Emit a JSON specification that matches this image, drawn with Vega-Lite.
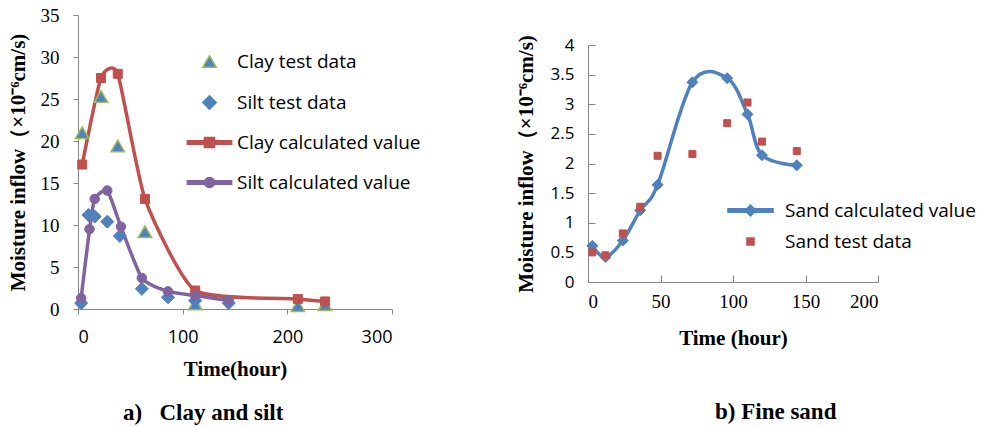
{
  "$schema": "https://vega.github.io/schema/vega-lite/v6.json",
  "background": "white",
  "padding": {"left": 6, "top": 6, "right": 0, "bottom": 0},
  "spacing": 94,
  "resolve": {
    "scale": {"shape": "independent", "fill": "independent", "stroke": "independent"},
    "legend": {"shape": "independent", "fill": "independent", "stroke": "independent"}
  },
  "config": {
    "view": {"stroke": null},
    "axis": {"grid": false, "domainColor": "#868686", "tickColor": "#868686", "domainWidth": 1, "tickWidth": 1, "labelColor": "#000000", "titleColor": "#000000", "titleFont": "Liberation Serif", "titleFontWeight": "bold", "titleFontSize": 21},
    "legend": {"title": null, "orient": "none", "padding": 0, "labelFont": "Open Sans", "labelFontSize": 19, "labelColor": "#000000", "labelLimit": 400, "symbolStrokeWidth": 1.5},
    "title": {"font": "Liberation Serif", "fontWeight": "bold", "fontSize": 23, "color": "#000000"}
  },
  "datasets": {
    "clay_silt": [
      {"series": "Clay test data", "t": 4, "v": 21.0},
      {"series": "Clay test data", "t": 22, "v": 25.3},
      {"series": "Clay test data", "t": 38, "v": 19.4},
      {"series": "Clay test data", "t": 64, "v": 9.2},
      {"series": "Clay test data", "t": 112, "v": 0.6},
      {"series": "Clay test data", "t": 210, "v": 0.4},
      {"series": "Clay test data", "t": 236, "v": 0.5},
      {"series": "Silt test data", "t": 3, "v": 0.7},
      {"series": "Silt test data", "t": 10, "v": 11.2},
      {"series": "Silt test data", "t": 16, "v": 11.0},
      {"series": "Silt test data", "t": 28, "v": 10.4},
      {"series": "Silt test data", "t": 40, "v": 8.7},
      {"series": "Silt test data", "t": 61, "v": 2.4},
      {"series": "Silt test data", "t": 86, "v": 1.4},
      {"series": "Silt test data", "t": 112, "v": 1.0},
      {"series": "Silt test data", "t": 144, "v": 0.7},
      {"series": "Clay calculated value", "t": 4, "v": 17.2},
      {"series": "Clay calculated value", "t": 22, "v": 27.5},
      {"series": "Clay calculated value", "t": 38, "v": 28.0},
      {"series": "Clay calculated value", "t": 64, "v": 13.1},
      {"series": "Clay calculated value", "t": 112, "v": 2.2},
      {"series": "Clay calculated value", "t": 210, "v": 1.2},
      {"series": "Clay calculated value", "t": 236, "v": 0.9},
      {"series": "Silt calculated value", "t": 3, "v": 1.3},
      {"series": "Silt calculated value", "t": 11, "v": 9.5},
      {"series": "Silt calculated value", "t": 16, "v": 13.1},
      {"series": "Silt calculated value", "t": 28, "v": 14.1},
      {"series": "Silt calculated value", "t": 41, "v": 9.8},
      {"series": "Silt calculated value", "t": 61, "v": 3.7},
      {"series": "Silt calculated value", "t": 86, "v": 2.1},
      {"series": "Silt calculated value", "t": 112, "v": 1.6},
      {"series": "Silt calculated value", "t": 144, "v": 1.0}
    ],
    "sand": [
      {"series": "Sand calculated value", "t": 3, "v": 0.61},
      {"series": "Sand calculated value", "t": 12, "v": 0.42},
      {"series": "Sand calculated value", "t": 24, "v": 0.70},
      {"series": "Sand calculated value", "t": 36, "v": 1.21},
      {"series": "Sand calculated value", "t": 48, "v": 1.64},
      {"series": "Sand calculated value", "t": 72, "v": 3.37},
      {"series": "Sand calculated value", "t": 96, "v": 3.44},
      {"series": "Sand calculated value", "t": 110, "v": 2.83},
      {"series": "Sand calculated value", "t": 120, "v": 2.14},
      {"series": "Sand calculated value", "t": 144, "v": 1.97},
      {"series": "Sand test data", "t": 3, "v": 0.50},
      {"series": "Sand test data", "t": 12, "v": 0.45},
      {"series": "Sand test data", "t": 24, "v": 0.82},
      {"series": "Sand test data", "t": 36, "v": 1.27},
      {"series": "Sand test data", "t": 48, "v": 2.13},
      {"series": "Sand test data", "t": 72, "v": 2.16},
      {"series": "Sand test data", "t": 96, "v": 2.68},
      {"series": "Sand test data", "t": 110, "v": 3.03},
      {"series": "Sand test data", "t": 120, "v": 2.37},
      {"series": "Sand test data", "t": 144, "v": 2.21}
    ]
  },
  "hconcat": [
    {
      "width": 314,
      "height": 294,
      "data": {"name": "clay_silt"},
      "title": {"text": "a)\u00a0\u00a0\u00a0Clay and silt", "orient": "bottom", "anchor": "start", "frame": "group", "dx": 45, "offset": 23},
      "encoding": {
        "x": {"field": "t", "type": "quantitative", "scale": {"domain": [0, 300], "nice": false},
              "axis": {"values": [0, 100, 200, 300], "title": "Time(hour)", "labelFont": "Open Sans", "labelFontSize": 18, "tickSize": 5, "labelPadding": 14, "titlePadding": 12}},
        "y": {"field": "v", "type": "quantitative", "scale": {"domain": [0, 35], "nice": false},
              "axis": {"values": [0, 5, 10, 15, 20, 25, 30, 35], "title": "Moisture inflow（×10⁻⁶cm/s)", "labelFont": "Liberation Serif", "labelFontSize": 19, "tickSize": 5, "labelPadding": 14, "titlePadding": 12}}
      },
      "layer": [
        {
          "transform": [{"filter": "datum.series === 'Clay calculated value'"}],
          "mark": {"type": "line", "interpolate": "cardinal", "tension": 0.45, "color": "#C0504D", "strokeWidth": 3.5}
        },
        {
          "transform": [{"filter": "datum.series === 'Silt calculated value'"}],
          "mark": {"type": "line", "interpolate": "cardinal", "tension": 0.45, "color": "#8064A2", "strokeWidth": 3.5}
        },
        {
          "transform": [{"filter": "datum.series === 'Clay test data'"}],
          "mark": {"type": "point", "filled": true, "opacity": 1, "size": 180, "strokeWidth": 1.5},
          "encoding": {
            "shape": {"field": "series", "type": "nominal",
                      "scale": {"domain": ["Clay test data", "Silt test data", "Clay calculated value", "Silt calculated value"],
                                "range": ["triangle-up", "diamond",
                                          "M-3.3,-0.26H3.3V0.26H-3.3Z M-0.75,-0.75H0.75V0.75H-0.75Z",
                                          "M-3.3,-0.26H3.3V0.26H-3.3Z M0.75,0A0.75,0.75,0,1,1,-0.75,0A0.75,0.75,0,1,1,0.75,0Z"]},
                      "legend": {"legendX": 122, "legendY": 37, "labelOffset": 18, "rowPadding": 20, "symbolSize": 180}},
            "fill": {"field": "series", "type": "nominal",
                     "scale": {"domain": ["Clay test data", "Silt test data", "Clay calculated value", "Silt calculated value"], "range": ["#4F81BD", "#4F81BD", "#C0504D", "#8064A2"]}},
            "stroke": {"field": "series", "type": "nominal",
                       "scale": {"domain": ["Clay test data", "Silt test data", "Clay calculated value", "Silt calculated value"], "range": ["#9BBB59", "#4F81BD", "#C0504D", "#8064A2"]}}
          }
        },
        {
          "transform": [{"filter": "datum.series === 'Silt test data'"}],
          "mark": {"type": "point", "filled": true, "opacity": 1, "size": 170, "strokeWidth": 1},
          "encoding": {
            "shape": {"field": "series", "type": "nominal"},
            "fill": {"field": "series", "type": "nominal"},
            "stroke": {"field": "series", "type": "nominal"}
          }
        },
        {
          "transform": [{"filter": "datum.series === 'Clay calculated value'"}],
          "mark": {"type": "point", "shape": "square", "filled": true, "opacity": 1, "size": 81, "strokeWidth": 1},
          "encoding": {
            "fill": {"field": "series", "type": "nominal"},
            "stroke": {"field": "series", "type": "nominal"}
          }
        },
        {
          "transform": [{"filter": "datum.series === 'Silt calculated value'"}],
          "mark": {"type": "point", "shape": "circle", "filled": true, "opacity": 1, "size": 90, "strokeWidth": 1},
          "encoding": {
            "fill": {"field": "series", "type": "nominal"},
            "stroke": {"field": "series", "type": "nominal"}
          }
        }
      ]
    },
    {
      "width": 290,
      "height": 267,
      "data": {"name": "sand"},
      "title": {"text": "b) Fine sand", "orient": "bottom", "anchor": "start", "frame": "group", "dx": 127, "offset": 53},
      "encoding": {
        "x": {"field": "t", "type": "quantitative", "scale": {"domain": [0, 200], "nice": false},
              "axis": {"values": [0, 50, 100, 150, 200], "title": "Time (hour)", "labelFont": "Liberation Serif", "labelFontSize": 19, "tickSize": -7, "labelPadding": 17, "titlePadding": 16}},
        "y": {"field": "v", "type": "quantitative", "scale": {"domain": [0, 4], "nice": false, "range": [267, 30]},
              "axis": {"values": [0, 0.5, 1, 1.5, 2, 2.5, 3, 3.5, 4], "format": "~g", "title": "Moisture inflow（×10⁻⁶cm/s)", "labelFont": "Open Sans", "labelFontSize": 17, "tickSize": -7, "labelPadding": 21, "titlePadding": 14}}
      },
      "layer": [
        {
          "transform": [{"filter": "datum.series === 'Sand calculated value'"}],
          "mark": {"type": "line", "interpolate": "cardinal", "color": "#4F81BD", "strokeWidth": 3.5}
        },
        {
          "transform": [{"filter": "datum.series === 'Sand calculated value'"}],
          "mark": {"type": "point", "shape": "diamond", "filled": true, "opacity": 1, "size": 121, "strokeWidth": 1},
          "encoding": {
            "fill": {"field": "series", "type": "nominal",
                     "scale": {"domain": ["Sand calculated value", "Sand test data"], "range": ["#4F81BD", "#C0504D"]}},
            "stroke": {"field": "series", "type": "nominal",
                       "scale": {"domain": ["Sand calculated value", "Sand test data"], "range": ["#4F81BD", "#C0504D"]}}
          }
        },
        {
          "transform": [{"filter": "datum.series === 'Sand test data'"}],
          "mark": {"type": "point", "filled": true, "opacity": 1, "size": 120, "strokeWidth": 1},
          "encoding": {
            "shape": {"field": "series", "type": "nominal",
                      "scale": {"domain": ["Sand calculated value", "Sand test data"],
                                "range": ["M-4.1,-0.3H4.1V0.3H-4.1Z M-1,0L0,-1L1,0L0,1Z", "M-0.64,-0.64H0.64V0.64H-0.64Z"]},
                      "legend": {"legendX": 153, "legendY": 186, "labelOffset": 25, "rowPadding": 11, "symbolSize": 121}},
            "fill": {"field": "series", "type": "nominal"},
            "stroke": {"field": "series", "type": "nominal"}
          }
        }
      ]
    }
  ]
}
